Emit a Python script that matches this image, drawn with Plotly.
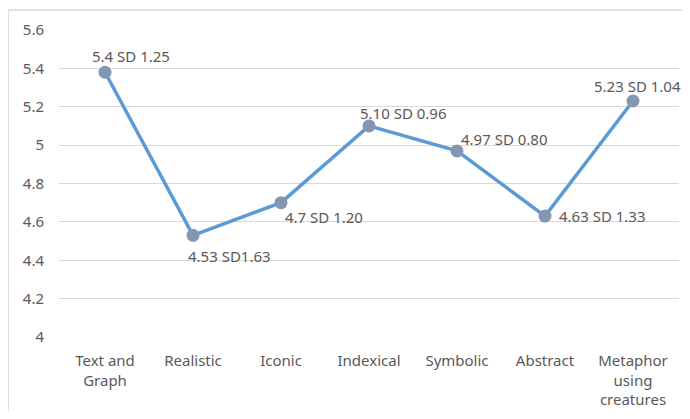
import plotly.graph_objects as go

categories = ["Text and<br>Graph", "Realistic", "Iconic", "Indexical", "Symbolic", "Abstract", "Metaphor<br>using<br>creatures"]
means = [5.38, 4.53, 4.70, 5.10, 4.97, 4.63, 5.23]
labels = ["5.4 SD 1.25", "4.53 SD1.63", "4.7 SD 1.20", "5.10 SD 0.96", "4.97 SD 0.80", "4.63 SD 1.33", "5.23 SD 1.04"]
# label offsets (pixels) relative to each point
label_dx = [-15, -7, 2, -11, 2, 12, -41]
label_dy = [16, -21, -14, 13, 12, 0, 15]
y_ticks = [4, 4.2, 4.4, 4.6, 4.8, 5, 5.2, 5.4, 5.6]
y_tick_text = ["4", "4.2", "4.4", "4.6", "4.8", "5", "5.2", "5.4", "5.6"]

font_family = "Noto Sans, Open Sans, sans-serif"
text_col = "#595959"

fig = go.Figure()
fig.add_trace(go.Scatter(
    x=categories, y=means, mode="lines+markers",
    line=dict(color="#5B9BD5", width=3.5),
    marker=dict(color="#8497B0", size=13),
    showlegend=False, cliponaxis=False,
))

annotations = []
for c, v, t, dx, dy in zip(categories, means, labels, label_dx, label_dy):
    annotations.append(dict(x=c, y=v, xref="x", yref="y", text=t, showarrow=False,
                            xanchor="left", yanchor="middle", xshift=dx, yshift=dy,
                            font=dict(family=font_family, size=15, color=text_col)))

# page has 8px body margin; figure is sized to fit within the 690x419 window
fig.update_layout(
    width=674, height=403,
    margin=dict(l=51, r=3, t=22, b=74),
    plot_bgcolor="white", paper_bgcolor="white",
    font=dict(family=font_family, size=15, color=text_col),
    xaxis=dict(range=[-0.523, len(categories) - 0.477],
               showgrid=False, showline=False, ticks="", ticklabelstandoff=13,
               tickfont=dict(size=15, color=text_col)),
    yaxis=dict(range=[4, 5.6], tickvals=y_ticks, ticktext=y_tick_text,
               showgrid=True, gridcolor="#D9D9D9", gridwidth=1,
               zeroline=False, showline=False, ticks="", ticklabelstandoff=14,
               tickfont=dict(size=15, color=text_col)),
    annotations=annotations,
    shapes=[dict(type="rect", xref="paper", yref="paper",
                 x0=-0.0821, x1=1.05, y0=-0.4, y1=1.065,
                 line=dict(color="#D9D9D9", width=1.5), fillcolor="rgba(0,0,0,0)", layer="below")],
)

fig.write_html("out.html")
